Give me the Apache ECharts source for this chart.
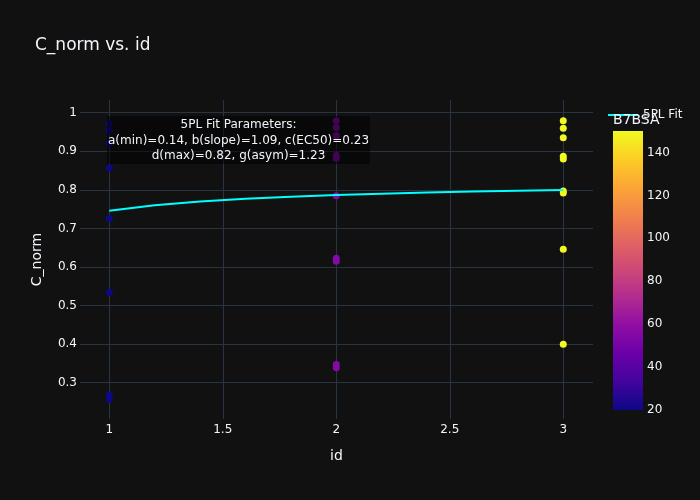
<!DOCTYPE html>
<html>
<head>
<meta charset="utf-8">
<script src="https://cdn.jsdelivr.net/npm/echarts@6/dist/echarts.min.js"></script>
<style>
html,body{margin:0;padding:0;background:#111111;}
#main{width:700px;height:500px;}
</style>
</head>
<body>
<div id="main"></div>
<script>
// ---- data ----
const scatterId = [1,1,1,1,1,1,1,1, 2,2,2,2,2,2,2,2,2,2, 3,3,3,3,3,3,3,3,3];
const scatterCnorm = [0.972,0.953,0.921,0.857,0.726,0.534,0.268,0.257,
  0.979,0.962,0.940,0.890,0.882,0.785,0.623,0.615,0.347,0.339,
  0.979,0.960,0.935,0.887,0.880,0.797,0.792,0.646,0.400];
const scatterB7BSA = [20,20,20,20,20,20,20,20, 55,55,55,55,55,55,55,55,55,55,
  150,150,150,150,150,150,150,150,150];
const fitId = [1.0,1.2,1.4,1.6,1.8,2.0,2.2,2.4,2.6,2.8,3.0];
const fitCnorm = [0.746,0.760,0.770,0.777,0.782,0.787,0.790,0.793,0.796,0.798,0.800];
const xTicks = [1,1.5,2,2.5,3];
const yTicks = [0.3,0.4,0.5,0.6,0.7,0.8,0.9,1];
const colorbarTicks = [20,40,60,80,100,120,140];
const colorbarRange = [20,150];
const fitParamsText = ['5PL Fit Parameters:',
  'a(min)=0.14, b(slope)=1.09, c(EC50)=0.23',
  'd(max)=0.82, g(asym)=1.23'];
const plasma = ['#0d0887','#41049d','#6a00a8','#8f0da4','#b12a90','#cc4778','#e16462','#f2844b','#fca636','#fcce25','#f0f921'];

const FONT = 'DejaVu Sans';
const TXT = '#f2f5fa';
const GRID = '#283442';

const chart = echarts.init(document.getElementById('main'), null, {renderer:'canvas'});
const scatterData = scatterId.map((x,i)=>[x, scatterCnorm[i], scatterB7BSA[i]]);
const fitData = fitId.map((x,i)=>[x, fitCnorm[i]]);
const gradStops = plasma.map((c,i)=>({offset: 1 - i/(plasma.length-1), color: c}));

const option = {
  backgroundColor: '#111111',
  animation: false,
  textStyle: {fontFamily: FONT},
  title: {
    text: 'C_norm vs. id', left: 30, top: 32,
    textStyle: {color: TXT, fontSize: 17, fontWeight: 'normal', fontFamily: FONT}
  },
  legend: {
    data: ['5PL Fit'], left: 608, top: 109, padding: 0,
    icon: 'rect', itemWidth: 30, itemHeight: 2,
    textStyle: {color: TXT, fontSize: 12, fontFamily: FONT}
  },
  visualMap: {
    type: 'continuous', show: false, min: colorbarRange[0], max: colorbarRange[1],
    dimension: 2, seriesIndex: 0, inRange: {color: plasma}
  },
  grid: [
    {left: 80, right: 107, top: 100, bottom: 81, containLabel: false},
    {left: 613, width: 30, top: 131, height: 279, containLabel: false}
  ],
  xAxis: [
    {type: 'value', gridIndex: 0, min: 0.871, max: 3.131,
     axisLine: {show: false}, axisTick: {show: false, customValues: xTicks},
     axisLabel: {customValues: xTicks, color: TXT, fontSize: 12, fontFamily: FONT, margin: 5},
     splitLine: {show: true, lineStyle: {color: GRID, width: 1}},
     name: 'id', nameLocation: 'middle', nameGap: 30,
     nameTextStyle: {color: TXT, fontSize: 14, fontFamily: FONT}},
    {type: 'category', gridIndex: 1, data: ['cb'], show: false}
  ],
  yAxis: [
    {type: 'value', gridIndex: 0, min: 0.206, max: 1.033,
     axisLine: {show: false}, axisTick: {show: false, customValues: yTicks},
     axisLabel: {customValues: yTicks, color: TXT, fontSize: 12, fontFamily: FONT, margin: 3},
     splitLine: {show: true, lineStyle: {color: GRID, width: 1}},
     name: 'C_norm', nameLocation: 'middle', nameGap: 36,
     nameTextStyle: {color: TXT, fontSize: 14, fontFamily: FONT}},
    {type: 'value', gridIndex: 1, position: 'right', min: colorbarRange[0], max: colorbarRange[1],
     axisLine: {show: false}, axisTick: {show: false, customValues: colorbarTicks},
     axisLabel: {customValues: colorbarTicks, color: TXT, fontSize: 12, fontFamily: FONT, margin: 4},
     splitLine: {show: false}}
  ],
  series: [
    {type: 'scatter', name: 'points', xAxisIndex: 0, yAxisIndex: 0,
     data: scatterData, symbolSize: 7, z: 2, itemStyle: {opacity: 1}},
    {type: 'line', name: '5PL Fit', xAxisIndex: 0, yAxisIndex: 0,
     data: fitData, symbol: 'none', smooth: false,
     lineStyle: {color: '#00ffff', width: 2}, itemStyle: {color: '#00ffff'}, z: 3},
    {type: 'bar', xAxisIndex: 1, yAxisIndex: 1, stack: 'cb', barWidth: '100%',
     data: [colorbarRange[0]], itemStyle: {color: 'rgba(0,0,0,0)'}, silent: true},
    {type: 'bar', xAxisIndex: 1, yAxisIndex: 1, stack: 'cb', barWidth: '100%',
     data: [colorbarRange[1] - colorbarRange[0]], silent: true,
     itemStyle: {color: new echarts.graphic.LinearGradient(0,0,0,1, gradStops)}}
  ],
  graphic: [
    {type: 'rect', z: 100, shape: {x: 107, y: 116, width: 263, height: 48},
     style: {fill: 'rgba(0,0,0,0.5)'}},
    {type: 'text', z: 101, x: 238.5, y: 140.5,
     style: {text: fitParamsText.join('\n'), fill: TXT, font: '12px "DejaVu Sans"',
       align: 'center', verticalAlign: 'middle', lineHeight: 15.5}},
    {type: 'text', z: 101, x: 613, y: 120,
     style: {text: 'B7BSA', fill: TXT, font: '14px "DejaVu Sans"', align: 'left', verticalAlign: 'middle'}}
  ]
};
chart.setOption(option);
</script>
</body>
</html>
